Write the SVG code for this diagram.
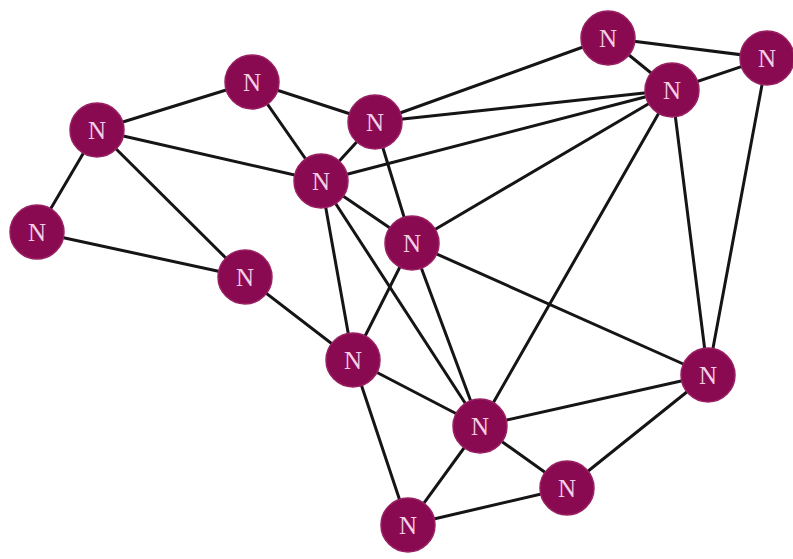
<svg xmlns="http://www.w3.org/2000/svg" width="793" height="559" viewBox="0 0 793 559">
<style>
.e{stroke:#161416;stroke-width:3;fill:none;stroke-linecap:round}
.n circle{fill:#890a50;stroke:#9a2064;stroke-width:1.5}
.n text{fill:#f3cfe6;font-family:"Liberation Serif",serif;font-size:25px;text-anchor:middle;dominant-baseline:central}
</style>
<rect width="793" height="559" fill="#ffffff"/>
<g id="edges">
<line class="e" x1="97" y1="130" x2="252" y2="82"/>
<line class="e" x1="97" y1="130" x2="37" y2="232"/>
<line class="e" x1="97" y1="130" x2="321" y2="181"/>
<line class="e" x1="97" y1="130" x2="245" y2="277"/>
<line class="e" x1="37" y1="232" x2="245" y2="277"/>
<line class="e" x1="252" y1="82" x2="375" y2="122"/>
<line class="e" x1="252" y1="82" x2="321" y2="181"/>
<line class="e" x1="375" y1="122" x2="321" y2="181"/>
<line class="e" x1="375" y1="122" x2="608" y2="38"/>
<line class="e" x1="375" y1="122" x2="672" y2="90"/>
<line class="e" x1="375" y1="122" x2="412" y2="243"/>
<line class="e" x1="321" y1="181" x2="672" y2="90"/>
<line class="e" x1="321" y1="181" x2="412" y2="243"/>
<line class="e" x1="321" y1="181" x2="353" y2="360"/>
<line class="e" x1="321" y1="181" x2="480" y2="426"/>
<line class="e" x1="608" y1="38" x2="672" y2="90"/>
<line class="e" x1="608" y1="38" x2="767" y2="58"/>
<line class="e" x1="672" y1="90" x2="767" y2="58"/>
<line class="e" x1="672" y1="90" x2="412" y2="243"/>
<line class="e" x1="672" y1="90" x2="480" y2="426"/>
<line class="e" x1="672" y1="90" x2="708" y2="375"/>
<line class="e" x1="767" y1="58" x2="708" y2="375"/>
<line class="e" x1="412" y1="243" x2="353" y2="360"/>
<line class="e" x1="412" y1="243" x2="480" y2="426"/>
<line class="e" x1="412" y1="243" x2="708" y2="375"/>
<line class="e" x1="245" y1="277" x2="353" y2="360"/>
<line class="e" x1="353" y1="360" x2="480" y2="426"/>
<line class="e" x1="353" y1="360" x2="408" y2="525"/>
<line class="e" x1="480" y1="426" x2="708" y2="375"/>
<line class="e" x1="480" y1="426" x2="408" y2="525"/>
<line class="e" x1="480" y1="426" x2="567" y2="488"/>
<line class="e" x1="567" y1="488" x2="708" y2="375"/>
<line class="e" x1="408" y1="525" x2="567" y2="488"/>
</g>
<g id="n1" class="n"><circle cx="97" cy="130" r="27"/><text x="97" y="130">N</text></g>
<g id="n2" class="n"><circle cx="252" cy="82" r="27"/><text x="252" y="82">N</text></g>
<g id="n3" class="n"><circle cx="375" cy="122" r="27"/><text x="375" y="122">N</text></g>
<g id="n4" class="n"><circle cx="321" cy="181" r="27"/><text x="321" y="181">N</text></g>
<g id="n5" class="n"><circle cx="37" cy="232" r="27"/><text x="37" y="232">N</text></g>
<g id="n6" class="n"><circle cx="245" cy="277" r="27"/><text x="245" y="277">N</text></g>
<g id="n7" class="n"><circle cx="412" cy="243" r="27"/><text x="412" y="243">N</text></g>
<g id="n8" class="n"><circle cx="608" cy="38" r="27"/><text x="608" y="38">N</text></g>
<g id="n9" class="n"><circle cx="672" cy="90" r="27"/><text x="672" y="90">N</text></g>
<g id="n10" class="n"><circle cx="767" cy="58" r="27"/><text x="767" y="58">N</text></g>
<g id="n11" class="n"><circle cx="353" cy="360" r="27"/><text x="353" y="360">N</text></g>
<g id="n12" class="n"><circle cx="708" cy="375" r="27"/><text x="708" y="375">N</text></g>
<g id="n13" class="n"><circle cx="480" cy="426" r="27"/><text x="480" y="426">N</text></g>
<g id="n14" class="n"><circle cx="567" cy="488" r="27"/><text x="567" y="488">N</text></g>
<g id="n15" class="n"><circle cx="408" cy="525" r="27"/><text x="408" y="525">N</text></g>
</svg>
